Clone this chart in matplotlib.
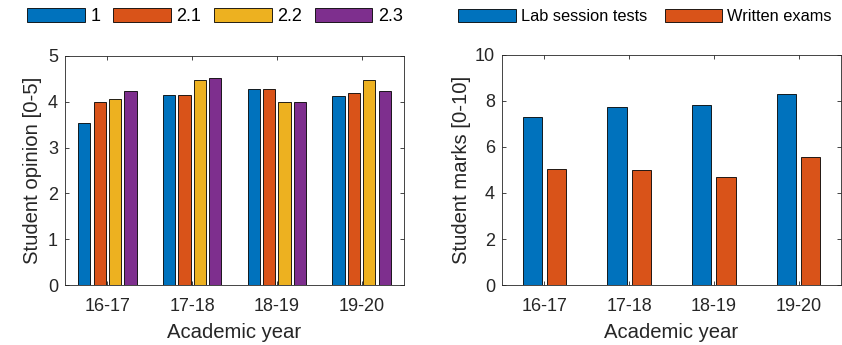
import numpy as np
import matplotlib as mpl
from matplotlib import pyplot as plt
from matplotlib.patches import Patch

plt.rcParams['font.family'] = ['Liberation Sans', 'DejaVu Sans']

# Data
years = ['16-17', '17-18', '18-19', '19-20']
opinion_labels = ['1', '2.1', '2.2', '2.3']
opinion_1 = [3.53, 4.15, 4.29, 4.13]
opinion_21 = [4.00, 4.15, 4.29, 4.19]
opinion_22 = [4.06, 4.48, 4.00, 4.48]
opinion_23 = [4.24, 4.53, 4.00, 4.24]
lab_marks = [7.29, 7.76, 7.84, 8.32]
written_marks = [5.05, 5.01, 4.69, 5.57]
marks_labels = ['Lab session tests', 'Written exams']

colors = ['#0072BD', '#D95319', '#EDB120', '#7E2F8E']
axcol = '#262626'

fig = plt.figure(figsize=(8.42, 3.45), dpi=100)
ax1 = fig.add_axes([0.0772, 0.1739, 0.4026, 0.6638])
ax2 = fig.add_axes([0.5962, 0.1739, 0.4026, 0.6667])

x = np.arange(1, len(years) + 1)


def grouped(ax, series, labels):
    n = len(series)
    group = min(0.8, n / (n + 1.5))
    slot = group / n
    for i, (vals, lab) in enumerate(zip(series, labels)):
        off = -group / 2 + slot * (i + 0.5)
        ax.bar(x + off, vals, width=slot * 0.8, color=colors[i],
               edgecolor='black', linewidth=0.6, label=lab)


grouped(ax1, [opinion_1, opinion_21, opinion_22, opinion_23], opinion_labels)
grouped(ax2, [lab_marks, written_marks], marks_labels)

for ax, ylab, ymax, step, lp in [(ax1, 'Student opinion [0-5]', 5, 1, 4),
                                 (ax2, 'Student marks [0-10]', 10, 2, 3)]:
    ax.set_xlim(0.5, 4.5)
    ax.set_ylim(0, ymax)
    ax.set_xticks(x)
    ax.set_xticklabels(years)
    ax.set_yticks(np.arange(0, ymax + 1, step))
    ax.set_xlabel('Academic year', fontsize=14.6, color=axcol, labelpad=6)
    ax.set_ylabel(ylab, fontsize=14.6, color=axcol, labelpad=lp)
    ax.tick_params(direction='in', length=3, width=0.6, top=True, right=True,
                   labelsize=13, colors=axcol)
    ax.tick_params(axis='x', pad=9)
    ax.tick_params(axis='y', pad=5)
    for s in ax.spines.values():
        s.set_color(axcol)
        s.set_linewidth(0.6)

h1 = [Patch(facecolor=c, edgecolor='black', linewidth=0.6) for c in colors]
fig.legend(h1, opinion_labels, loc='center', bbox_to_anchor=(215 / 842, 0.952),
           ncol=4, frameon=False, fontsize=13, handlelength=3.2, handleheight=0.85,
           handletextpad=0.3, columnspacing=0.7, borderpad=0)
h2 = [Patch(facecolor=c, edgecolor='black', linewidth=0.6) for c in colors[:2]]
fig.legend(h2, marks_labels, loc='center', bbox_to_anchor=(645 / 842, 0.952),
           ncol=2, frameon=False, fontsize=11.8, handlelength=3.5, handleheight=0.9,
           handletextpad=0.3, columnspacing=1.1, borderpad=0)

plt.savefig('out.png', dpi=100)
